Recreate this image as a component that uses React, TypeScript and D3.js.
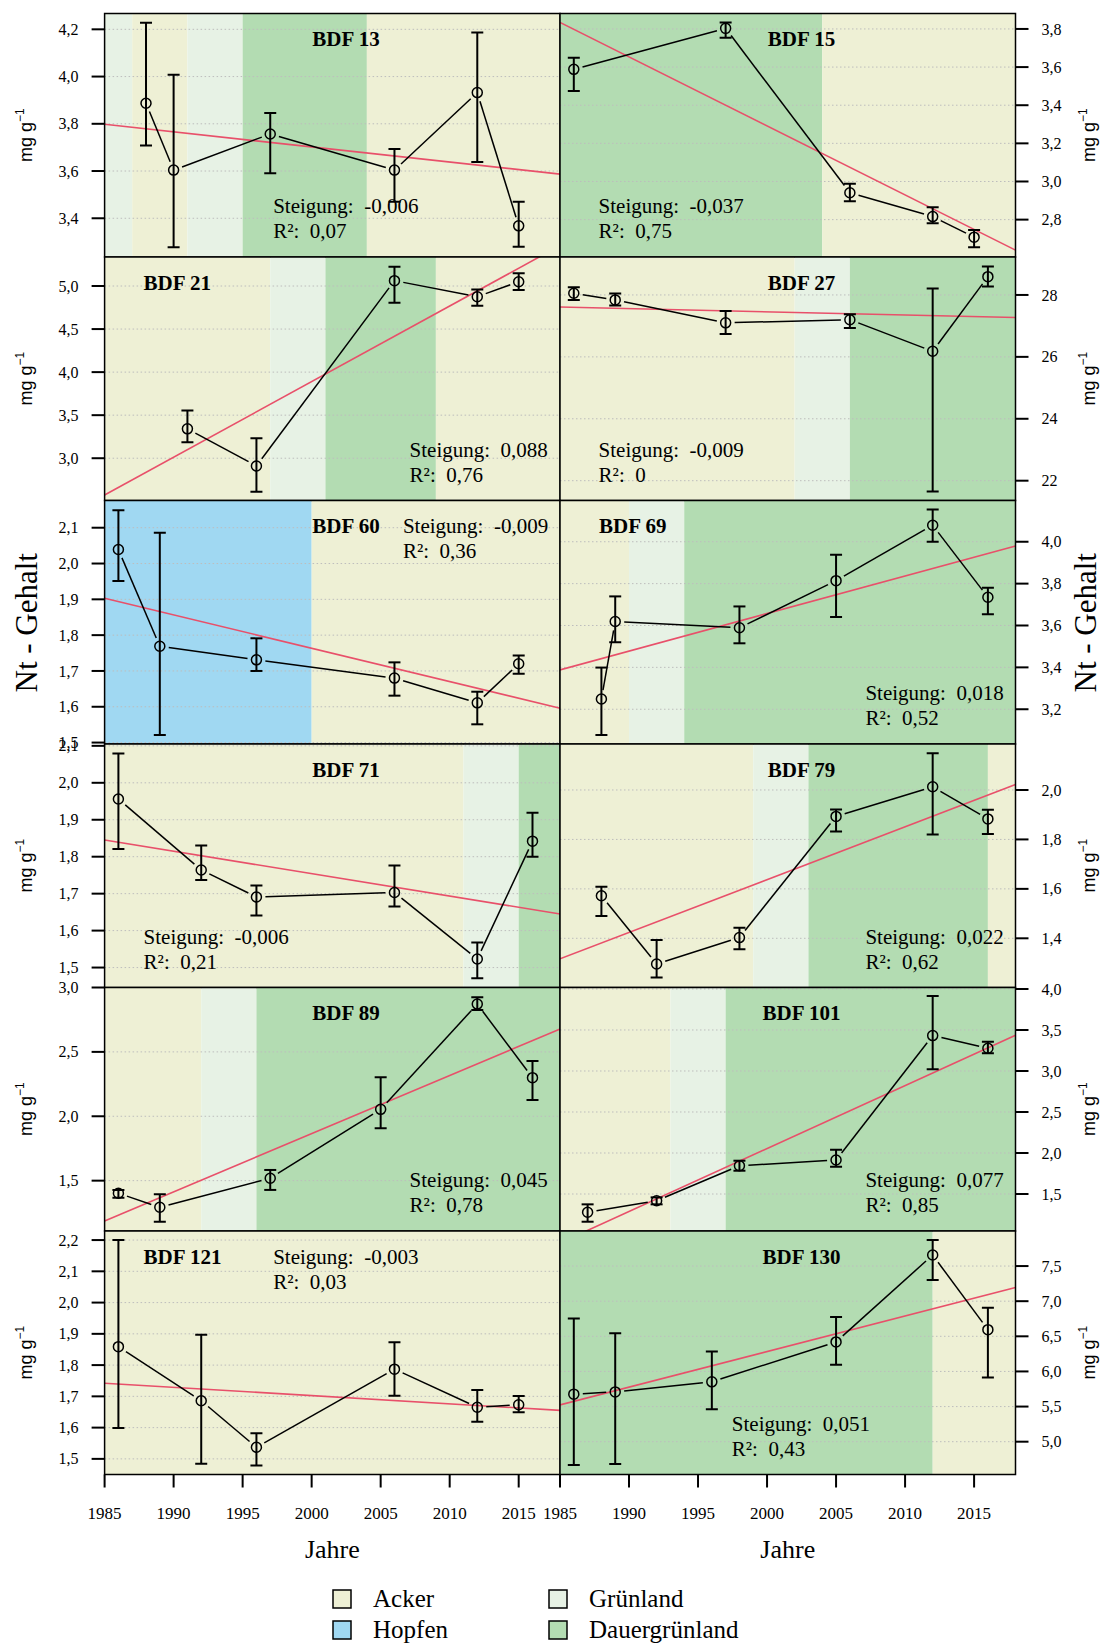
import React from 'react';
import * as d3 from 'd3';

// ---------------- data ----------------
const xDomain = [1985, 2018];
const yearTicks = [1985, 1990, 1995, 2000, 2005, 2010, 2015];

const landUseNames = ['Acker', 'Hopfen', 'Grünland', 'Dauergrünland'];
const landUseColors: Record<string, string> = {
  Acker: '#eef0d5',
  Hopfen: '#a0d8f2',
  'Grünland': '#e7f2e5',
  'Dauergrünland': '#b3dcb2',
};

// BDF 13
const bdf13Years = [1988, 1990, 1997, 2006, 2012, 2015];
const bdf13Mean = [3.887, 3.604, 3.757, 3.604, 3.932, 3.368];
const bdf13Lo = [3.708, 3.277, 3.591, 3.47, 3.638, 3.279];
const bdf13Hi = [4.228, 4.008, 3.846, 3.693, 4.187, 3.47];
const bdf13Domain = [3.236, 4.267];
const bdf13Ticks = [3.4, 3.6, 3.8, 4.0, 4.2];
const bdf13Trend = [3.798, 3.587];
const bdf13Bands: [number, number, string][] = [[1985, 1987, 'Grünland'], [1987, 1991, 'Acker'], [1991, 1995, 'Grünland'], [1995, 2004, 'Dauergrünland'], [2004, 2018, 'Acker']];

// BDF 15
const bdf15Years = [1986, 1997, 2006, 2012, 2015];
const bdf15Mean = [3.588, 3.803, 2.941, 2.816, 2.708];
const bdf15Lo = [3.474, 3.754, 2.897, 2.781, 2.655];
const bdf15Hi = [3.649, 3.834, 2.988, 2.865, 2.746];
const bdf15Domain = [2.604, 3.881];
const bdf15Ticks = [2.8, 3.0, 3.2, 3.4, 3.6, 3.8];
const bdf15Trend = [3.834, 2.64];
const bdf15Bands: [number, number, string][] = [[1985, 2004, 'Dauergrünland'], [2004, 2018, 'Acker']];

// BDF 21
const bdf21Years = [1991, 1996, 2006, 2012, 2015];
const bdf21Mean = [3.341, 2.91, 5.062, 4.876, 5.05];
const bdf21Lo = [3.186, 2.612, 4.805, 4.77, 4.953];
const bdf21Hi = [3.553, 3.233, 5.224, 4.96, 5.147];
const bdf21Domain = [2.509, 5.337];
const bdf21Ticks = [3.0, 3.5, 4.0, 4.5, 5.0];
const bdf21Trend = [2.573, 5.47];
const bdf21Bands: [number, number, string][] = [[1985, 1997, 'Acker'], [1997, 2001, 'Grünland'], [2001, 2009, 'Dauergrünland'], [2009, 2018, 'Acker']];

// BDF 27
const bdf27Years = [1986, 1989, 1997, 2006, 2012, 2016];
const bdf27Mean = [28.055, 27.84, 27.1, 27.2, 26.18, 28.59];
const bdf27Lo = [27.84, 27.66, 26.74, 26.93, 21.65, 28.27];
const bdf27Hi = [28.25, 28.05, 27.48, 27.38, 28.21, 28.92];
const bdf27Domain = [21.36, 29.226];
const bdf27Ticks = [22, 24, 26, 28];
const bdf27Trend = [27.61, 27.27];
const bdf27Bands: [number, number, string][] = [[1985, 2002, 'Acker'], [2002, 2006, 'Grünland'], [2006, 2018, 'Dauergrünland']];

// BDF 60
const bdf60Years = [1986, 1989, 1996, 2006, 2012, 2015];
const bdf60Mean = [2.039, 1.769, 1.731, 1.68, 1.611, 1.72];
const bdf60Lo = [1.951, 1.521, 1.7, 1.631, 1.551, 1.692];
const bdf60Hi = [2.149, 2.086, 1.791, 1.724, 1.642, 1.743];
const bdf60Domain = [1.496, 2.176];
const bdf60Ticks = [1.5, 1.6, 1.7, 1.8, 1.9, 2.0, 2.1];
const bdf60Trend = [1.903, 1.596];
const bdf60Bands: [number, number, string][] = [[1985, 2000, 'Hopfen'], [2000, 2018, 'Acker']];

// BDF 69
const bdf69Years = [1988, 1989, 1998, 2005, 2012, 2016];
const bdf69Mean = [3.249, 3.619, 3.589, 3.814, 4.079, 3.735];
const bdf69Lo = [3.077, 3.52, 3.515, 3.64, 4.0, 3.654];
const bdf69Hi = [3.399, 3.739, 3.691, 3.938, 4.154, 3.78];
const bdf69Domain = [3.034, 4.197];
const bdf69Ticks = [3.2, 3.4, 3.6, 3.8, 4.0];
const bdf69Trend = [3.388, 3.98];
const bdf69Bands: [number, number, string][] = [[1985, 1990, 'Acker'], [1990, 1994, 'Grünland'], [1994, 2018, 'Dauergrünland']];

// BDF 71
const bdf71Years = [1986, 1992, 1996, 2006, 2012, 2016];
const bdf71Mean = [1.956, 1.764, 1.691, 1.703, 1.523, 1.842];
const bdf71Lo = [1.821, 1.737, 1.641, 1.665, 1.471, 1.8];
const bdf71Hi = [2.079, 1.83, 1.722, 1.776, 1.568, 1.919];
const bdf71Domain = [1.446, 2.105];
const bdf71Ticks = [1.5, 1.6, 1.7, 1.8, 1.9, 2.0, 2.1];
const bdf71Trend = [1.845, 1.645];
const bdf71Bands: [number, number, string][] = [[1985, 2011, 'Acker'], [2011, 2015, 'Grünland'], [2015, 2018, 'Dauergrünland']];

// BDF 79
const bdf79Years = [1988, 1992, 1998, 2005, 2012, 2016];
const bdf79Mean = [1.572, 1.296, 1.403, 1.893, 2.013, 1.883];
const bdf79Lo = [1.49, 1.241, 1.356, 1.832, 1.82, 1.822];
const bdf79Hi = [1.609, 1.393, 1.443, 1.921, 2.149, 1.92];
const bdf79Domain = [1.201, 2.186];
const bdf79Ticks = [1.4, 1.6, 1.8, 2.0];
const bdf79Trend = [1.317, 2.022];
const bdf79Bands: [number, number, string][] = [[1985, 1999, 'Acker'], [1999, 2003, 'Grünland'], [2003, 2016, 'Dauergrünland'], [2016, 2018, 'Acker']];

// BDF 89
const bdf89Years = [1986, 1989, 1997, 2005, 2012, 2016];
const bdf89Mean = [1.402, 1.293, 1.519, 2.054, 2.871, 2.3];
const bdf89Lo = [1.368, 1.181, 1.428, 1.907, 2.826, 2.127];
const bdf89Hi = [1.428, 1.394, 1.583, 2.303, 2.925, 2.43];
const bdf89Domain = [1.109, 3.0];
const bdf89Ticks = [1.5, 2.0, 2.5, 3.0];
const bdf89Trend = [1.187, 2.678];
const bdf89Bands: [number, number, string][] = [[1985, 1992, 'Acker'], [1992, 1996, 'Grünland'], [1996, 2018, 'Dauergrünland']];

// BDF 101
const bdf101Years = [1987, 1992, 1998, 2005, 2012, 2016];
const bdf101Mean = [1.277, 1.418, 1.845, 1.914, 3.432, 3.277];
const bdf101Lo = [1.162, 1.374, 1.784, 1.833, 3.02, 3.215];
const bdf101Hi = [1.374, 1.459, 1.906, 2.041, 3.915, 3.358];
const bdf101Domain = [1.049, 4.018];
const bdf101Ticks = [1.5, 2.0, 2.5, 3.0, 3.5, 4.0];
const bdf101Trend = [0.903, 3.436];
const bdf101Bands: [number, number, string][] = [[1985, 1993, 'Acker'], [1993, 1997, 'Grünland'], [1997, 2018, 'Dauergrünland']];

// BDF 121
const bdf121Years = [1986, 1992, 1996, 2006, 2012, 2015];
const bdf121Mean = [1.859, 1.686, 1.537, 1.787, 1.665, 1.673];
const bdf121Lo = [1.599, 1.484, 1.479, 1.702, 1.619, 1.649];
const bdf121Hi = [2.2, 1.897, 1.582, 1.873, 1.72, 1.701];
const bdf121Domain = [1.45, 2.229];
const bdf121Ticks = [1.5, 1.6, 1.7, 1.8, 1.9, 2.0, 2.1, 2.2];
const bdf121Trend = [1.742, 1.655];
const bdf121Bands: [number, number, string][] = [[1985, 2018, 'Acker']];

// BDF 130
const bdf130Years = [1986, 1989, 1996, 2005, 2012, 2016];
const bdf130Mean = [5.677, 5.709, 5.852, 6.42, 7.657, 6.595];
const bdf130Lo = [4.667, 4.684, 5.462, 6.095, 7.3, 5.915];
const bdf130Hi = [6.754, 6.545, 6.284, 6.776, 7.87, 6.905];
const bdf130Domain = [4.533, 7.999];
const bdf130Ticks = [5.0, 5.5, 6.0, 6.5, 7.0, 7.5];
const bdf130Trend = [5.524, 7.195];
const bdf130Bands: [number, number, string][] = [[1985, 2012, 'Dauergrünland'], [2012, 2018, 'Acker']];

const panelNames = ['BDF 13', 'BDF 15', 'BDF 21', 'BDF 27', 'BDF 60', 'BDF 69', 'BDF 71', 'BDF 79', 'BDF 89', 'BDF 101', 'BDF 121', 'BDF 130'];
const slopeLabels = ['-0,006', '-0,037', '0,088', '-0,009', '-0,009', '0,018', '-0,006', '0,022', '0,045', '0,077', '-0,003', '0,051'];
const r2Labels = ['0,07', '0,75', '0,76', '0', '0,36', '0,52', '0,21', '0,62', '0,78', '0,85', '0,03', '0,43'];

const panels = [
  { years: bdf13Years, mean: bdf13Mean, lo: bdf13Lo, hi: bdf13Hi, domain: bdf13Domain, ticks: bdf13Ticks, trend: bdf13Trend, bands: bdf13Bands },
  { years: bdf15Years, mean: bdf15Mean, lo: bdf15Lo, hi: bdf15Hi, domain: bdf15Domain, ticks: bdf15Ticks, trend: bdf15Trend, bands: bdf15Bands },
  { years: bdf21Years, mean: bdf21Mean, lo: bdf21Lo, hi: bdf21Hi, domain: bdf21Domain, ticks: bdf21Ticks, trend: bdf21Trend, bands: bdf21Bands },
  { years: bdf27Years, mean: bdf27Mean, lo: bdf27Lo, hi: bdf27Hi, domain: bdf27Domain, ticks: bdf27Ticks, trend: bdf27Trend, bands: bdf27Bands },
  { years: bdf60Years, mean: bdf60Mean, lo: bdf60Lo, hi: bdf60Hi, domain: bdf60Domain, ticks: bdf60Ticks, trend: bdf60Trend, bands: bdf60Bands },
  { years: bdf69Years, mean: bdf69Mean, lo: bdf69Lo, hi: bdf69Hi, domain: bdf69Domain, ticks: bdf69Ticks, trend: bdf69Trend, bands: bdf69Bands },
  { years: bdf71Years, mean: bdf71Mean, lo: bdf71Lo, hi: bdf71Hi, domain: bdf71Domain, ticks: bdf71Ticks, trend: bdf71Trend, bands: bdf71Bands },
  { years: bdf79Years, mean: bdf79Mean, lo: bdf79Lo, hi: bdf79Hi, domain: bdf79Domain, ticks: bdf79Ticks, trend: bdf79Trend, bands: bdf79Bands },
  { years: bdf89Years, mean: bdf89Mean, lo: bdf89Lo, hi: bdf89Hi, domain: bdf89Domain, ticks: bdf89Ticks, trend: bdf89Trend, bands: bdf89Bands },
  { years: bdf101Years, mean: bdf101Mean, lo: bdf101Lo, hi: bdf101Hi, domain: bdf101Domain, ticks: bdf101Ticks, trend: bdf101Trend, bands: bdf101Bands },
  { years: bdf121Years, mean: bdf121Mean, lo: bdf121Lo, hi: bdf121Hi, domain: bdf121Domain, ticks: bdf121Ticks, trend: bdf121Trend, bands: bdf121Bands },
  { years: bdf130Years, mean: bdf130Mean, lo: bdf130Lo, hi: bdf130Hi, domain: bdf130Domain, ticks: bdf130Ticks, trend: bdf130Trend, bands: bdf130Bands },
];

// ---------------- layout ----------------
const COL_X = [104.6, 560];
const PW = 455.5;
const TOP = 13.5;
const PH = 243.5;
const SERIF = '"Liberation Serif", "Times New Roman", serif';
const SANS = '"Liberation Sans", Arial, sans-serif';

// title alignment and stat-block placement per panel
const titleAlign = ['center', 'center', 'left', 'center', 'center', 'left', 'center', 'center', 'center', 'center', 'left', 'center'];
const statDx = [168.6, 38.6, 305, 38.6, 298.3, 305.4, 39, 305.4, 305, 305.4, 168.6, 171.8];
const statTop = [false, false, false, false, true, false, false, false, false, false, true, false];

const fmtTick = (v: number, ticks: number[]) => {
  const intTicks = ticks.every((t) => Number.isInteger(t));
  return (intTicks ? d3.format('d')(v) : d3.format('.1f')(v)).replace('.', ',');
};

function Panel({ i }: { i: number }) {
  const p = panels[i];
  const col = i % 2;
  const row = Math.floor(i / 2);
  const L = COL_X[col];
  const T = TOP + row * PH;
  const R = L + PW;
  const B = T + PH;
  const xs = d3.scaleLinear().domain(xDomain).range([L, R]);
  const ys = d3.scaleLinear().domain(p.domain).range([B, T]);
  const clipId = `clip${i}`;
  const pts = p.years.map((y, k) => [xs(y), ys(p.mean[k])]);
  const gap = 9;
  const segs: string[] = [];
  for (let k = 0; k < pts.length - 1; k++) {
    const [x1, y1] = pts[k];
    const [x2, y2] = pts[k + 1];
    const dx = x2 - x1, dy = y2 - y1;
    const d = Math.hypot(dx, dy);
    if (d <= 2 * gap) continue;
    const ux = dx / d, uy = dy / d;
    segs.push(d3.line()([[x1 + ux * gap, y1 + uy * gap], [x2 - ux * gap, y2 - uy * gap]]) as string);
  }
  const trendPath = d3.line()([[xs(xDomain[0]), ys(p.trend[0])], [xs(xDomain[1]), ys(p.trend[1])]]) as string;
  const titleX = titleAlign[i] === 'center' ? L + 241.5 : L + 39;
  const titleAnchor = titleAlign[i] === 'center' ? 'middle' : 'start';
  const titleY = T + 32.7;
  const sY = statTop[i] ? T + 32.7 : T + 199.5;
  const sX = L + statDx[i];
  const isLeft = col === 0;
  return (
    <g>
      <defs>
        <clipPath id={clipId}>
          <rect x={L} y={T} width={PW} height={PH} />
        </clipPath>
      </defs>
      <g clipPath={`url(#${clipId})`}>
        {p.bands.map((b, k) => (
          <rect key={k} x={xs(b[0])} y={T} width={xs(b[1]) - xs(b[0])} height={PH} fill={landUseColors[b[2]]} />
        ))}
        {p.ticks.map((t, k) => (
          <line key={k} x1={L} x2={R} y1={ys(t)} y2={ys(t)} stroke="#bdbdbd" strokeWidth={1} strokeDasharray="1.5 2.5" />
        ))}
        <path d={trendPath} stroke="#e8506a" strokeWidth={1.6} fill="none" />
        {segs.map((s, k) => (
          <path key={k} d={s} stroke="#000" strokeWidth={1.5} fill="none" />
        ))}
        {p.years.map((y, k) => {
          const x = xs(y);
          return (
            <g key={k} stroke="#000" strokeWidth={2}>
              <line x1={x} x2={x} y1={ys(p.lo[k])} y2={ys(p.hi[k])} />
              <line x1={x - 6} x2={x + 6} y1={ys(p.lo[k])} y2={ys(p.lo[k])} />
              <line x1={x - 6} x2={x + 6} y1={ys(p.hi[k])} y2={ys(p.hi[k])} />
            </g>
          );
        })}
        {pts.map(([x, y], k) => (
          <circle key={k} cx={x} cy={y} r={5} fill="none" stroke="#000" strokeWidth={1.5} />
        ))}
      </g>
      <text x={titleX} y={titleY} textAnchor={titleAnchor} fontFamily={SERIF} fontWeight="bold" fontSize={21}>
        {panelNames[i]}
      </text>
      <text x={sX} y={sY} fontFamily={SERIF} fontSize={21} style={{ whiteSpace: 'pre' }}>
        {`Steigung:  ${slopeLabels[i]}`}
      </text>
      <text x={sX} y={sY + 25} fontFamily={SERIF} fontSize={21} style={{ whiteSpace: 'pre' }}>
        {`R²:  ${r2Labels[i]}`}
      </text>
      <rect x={L} y={T} width={PW} height={PH} fill="none" stroke="#000" strokeWidth={1.5} />
      {/* y axis */}
      {p.ticks.map((t, k) => (
        <g key={k}>
          <line x1={isLeft ? L - 13 : R} x2={isLeft ? L : R + 13} y1={ys(t)} y2={ys(t)} stroke="#000" strokeWidth={2} />
          <text
            x={isLeft ? L - 26 : R + 26}
            y={ys(t)}
            dy="0.35em"
            textAnchor={isLeft ? 'end' : 'start'}
            fontFamily={SERIF}
            fontSize={16}
          >
            {fmtTick(t, p.ticks)}
          </text>
        </g>
      ))}
      {row === 2 ? (
        <text
          transform={`translate(${isLeft ? 37 : 1096},${T + PH / 2 + 0.5}) rotate(-90)`}
          textAnchor="middle"
          fontFamily={SERIF}
          fontSize={31}
        >
          Nt - Gehalt
        </text>
      ) : (
        <text
          transform={`translate(${isLeft ? 32 : 1095},${T + PH / 2}) rotate(-90)`}
          textAnchor="middle"
          fontFamily={SANS}
          fontSize={18}
        >
          mg g<tspan dy={-8} fontSize={12}>−1</tspan>
        </text>
      )}
    </g>
  );
}

export default function App() {
  const bottom = TOP + 6 * PH;
  return (
    <svg width={1105} height={1643} style={{ position: 'absolute', left: 0, top: 0, display: 'block' }}>
      <rect x={0} y={0} width={1105} height={1643} fill="#fff" />
      {panels.map((_, i) => (
        <Panel key={i} i={i} />
      ))}
      {COL_X.map((L, c) => {
        const xs = d3.scaleLinear().domain(xDomain).range([L, L + PW]);
        return (
          <g key={c}>
            {yearTicks.map((yr) => (
              <g key={yr}>
                <line x1={xs(yr)} x2={xs(yr)} y1={bottom} y2={bottom + 13} stroke="#000" strokeWidth={2} />
                <text x={xs(yr)} y={bottom + 44} textAnchor="middle" fontFamily={SERIF} fontSize={17}>
                  {yr}
                </text>
              </g>
            ))}
            <text x={L + PW / 2} y={1558} textAnchor="middle" fontFamily={SERIF} fontSize={26}>
              Jahre
            </text>
          </g>
        );
      })}
      {/* legend */}
      {landUseNames.map((n, k) => {
        const cx = k < 2 ? 333 : 549;
        const ry = k % 2 === 0 ? 1590 : 1621;
        return (
          <g key={n}>
            <rect x={cx} y={ry} width={18} height={18} fill={landUseColors[n]} stroke="#000" strokeWidth={1.5} />
            <text x={cx + 40} y={ry + 17} fontFamily={SERIF} fontSize={25}>
              {n}
            </text>
          </g>
        );
      })}
    </svg>
  );
}
